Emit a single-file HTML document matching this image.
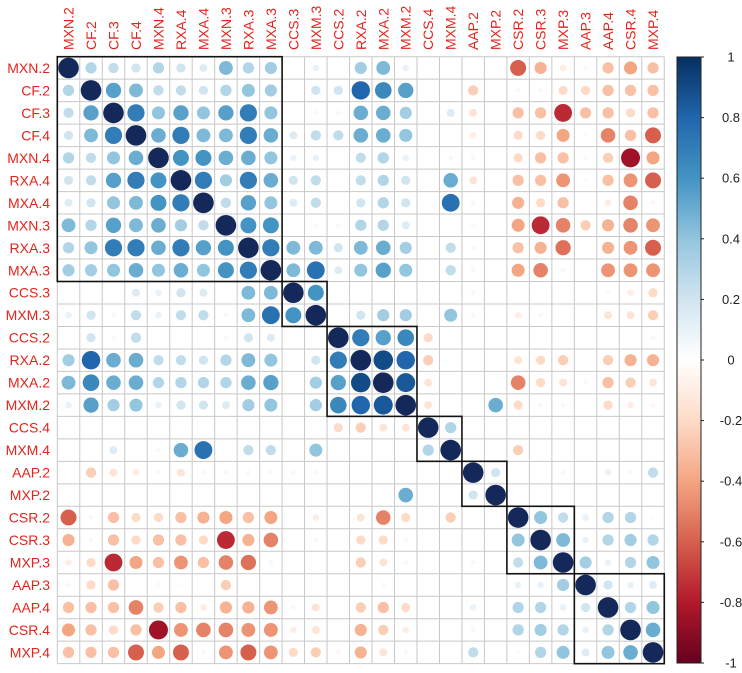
<!DOCTYPE html>
<html><head><meta charset="utf-8"><style>
body{margin:0;background:#fff;}
svg{display:block;font-family:"Liberation Sans",sans-serif;}
</style></head><body>
<svg id="chart" width="742" height="673" viewBox="0 0 742 673" xmlns="http://www.w3.org/2000/svg"></svg>
<script>
const variables=["MXN.2","CF.2","CF.3","CF.4","MXN.4","RXA.4","MXA.4","MXN.3","RXA.3","MXA.3","CCS.3","MXM.3","CCS.2","RXA.2","MXA.2","MXM.2","CCS.4","MXM.4","AAP.2","MXP.2","CSR.2","CSR.3","MXP.3","AAP.3","AAP.4","CSR.4","MXP.4"];
// upper triangle rows (starting at diagonal)
const upperRows=[
[1,.3,.25,.2,.3,.2,.15,.45,.3,.35,0,.1,0,.35,.45,.1,0,0,0,0,-.6,-.35,-.1,-.05,-.3,-.4,-.3],
[1,.55,.45,.25,.25,.2,.3,.4,.35,0,.2,.2,.8,.65,.55,0,0,-.25,0,-.05,-.05,-.2,-.2,-.3,-.3,-.3],
[1,.7,.4,.55,.4,.55,.7,.4,0,.05,.05,.5,.5,.35,0,.15,-.15,0,-.3,-.3,-.75,-.3,-.3,-.2,-.3],
[1,.5,.7,.45,.45,.7,.5,.15,.25,.25,.5,.5,.4,0,0,-.1,0,-.2,-.2,-.4,-.03,-.5,-.3,-.6],
[1,.6,.6,.5,.5,.4,.1,.1,0,.25,.3,.1,0,.05,-.05,0,-.2,-.3,-.3,-.05,-.25,-.85,-.4],
[1,.7,.35,.7,.5,.2,.25,0,.25,.3,.2,0,.5,-.15,0,-.3,-.3,-.45,-.03,-.3,-.45,-.6],
[1,.25,.55,.4,.15,.25,0,.2,.3,.2,0,.75,-.05,0,-.35,-.2,-.3,-.02,-.1,-.5,-.05],
[1,.6,.6,0,.05,.05,.3,.3,.15,0,0,-.05,0,-.4,-.75,-.5,-.25,-.35,-.5,-.45],
[1,.7,.45,.45,.2,.45,.5,.35,0,.25,-.05,0,-.3,-.35,-.55,-.03,-.35,-.45,-.6],
[1,.45,.75,.15,.4,.55,.4,0,.25,-.05,0,-.4,-.5,-.05,0,-.45,-.45,-.45],
[1,.6,0,0,0,0,0,0,-.05,0,0,0,0,0,-.05,-.1,-.2],
[1,0,.2,.35,.35,0,.4,-.05,0,-.1,-.05,0,0,-.15,-.15,-.25],
[1,.7,.55,.65,-.2,0,0,0,0,0,0,0,0,0,-.05],
[1,.9,.8,-.25,0,0,0,-.15,-.2,-.25,-.02,-.25,-.35,-.35],
[1,.85,-.15,0,0,0,-.5,-.2,-.15,-.05,-.3,-.25,-.15],
[1,-.15,0,0,.5,-.2,-.05,-.05,-.02,-.2,-.1,-.05],
[1,.3,0,0,0,0,0,0,0,0,0],
[1,0,0,-.25,0,0,0,0,0,0],
[1,.2,0,0,-.05,0,.1,.05,.25],
[1,0,0,0,0,0,0,0],
[1,.4,.25,.1,.3,.3,.03],
[1,.45,.1,.3,.35,.3],
[1,.35,.1,.3,.4],
[1,.2,.1,.15],
[1,.3,.4],
[1,.5],
[1]];
const blocks=[[0,9],[10,11],[12,15],[16,17],[18,19],[20,22],[23,26]];
const barTicks=[1,0.8,0.6,0.4,0.2,0,-0.2,-0.4,-0.6,-0.8,-1];
const barTickLabels=["1","0.8","0.6","0.4","0.2","0","-0.2","-0.4","-0.6","-0.8","-1"];

const NS="http://www.w3.org/2000/svg";
const svg=document.getElementById('chart');
const n=variables.length;
const x0=57.3,y0=56.7,cell=22.48;
function cx(j){return x0+(j+0.5)*cell;}
function cy(i){return y0+(i+0.5)*cell;}
function mk(t,a,parent){const e=document.createElementNS(NS,t);for(const k in a)e.setAttribute(k,a[k]);(parent||svg).appendChild(e);return e;}
const M=[];for(let i=0;i<n;i++)M.push(new Array(n).fill(0));
for(let i=0;i<n;i++)for(let k=0;k<upperRows[i].length;k++){const j=i+k;M[i][j]=upperRows[i][k];M[j][i]=upperRows[i][k];}
const stops=[[-1,[103,0,31]],[-0.8,[178,24,43]],[-0.6,[214,96,77]],[-0.4,[244,165,130]],[-0.2,[253,219,199]],[0,[255,255,255]],[0.2,[209,229,240]],[0.4,[146,197,222]],[0.6,[67,147,195]],[0.8,[33,102,172]],[1,[5,48,97]]];
function color(v){v=Math.max(-1,Math.min(1,v));for(let s=0;s<stops.length-1;s++){const a=stops[s],b=stops[s+1];if(v<=b[0]){const t=(v-a[0])/(b[0]-a[0]);const c=a[1].map((q,k)=>Math.round(q+(b[1][k]-q)*t));return `rgb(${c[0]},${c[1]},${c[2]})`;}}return 'rgb(5,48,97)';}
function diagColor(v){return v>=0.999?'#14285a':color(v);}
const grid=mk('g',{});


for(let k=0;k<=n;k++){
  mk('line',{x1:x0+k*cell,y1:y0,x2:x0+k*cell,y2:y0+n*cell,stroke:'#c8c8c8','stroke-width':1},grid);
  mk('line',{x1:x0,y1:y0+k*cell,x2:x0+n*cell,y2:y0+k*cell,stroke:'#c8c8c8','stroke-width':1},grid);
}
const cg=mk('g',{});


for(let i=0;i<n;i++)for(let j=0;j<n;j++){const v=M[i][j];if(Math.abs(v)<0.005)continue;
  const c=mk('circle',{cx:cx(j),cy:cy(i),r:(10.3*Math.sqrt(Math.abs(v))).toFixed(2),fill:diagColor(v)},cg);
  
  
}
for(const b of blocks){
  const r=mk('rect',{x:x0+b[0]*cell,y:y0+b[0]*cell,width:(b[1]-b[0]+1)*cell,height:(b[1]-b[0]+1)*cell,fill:'none',stroke:'#111','stroke-width':1.6});
  
  
}
for(let i=0;i<n;i++){
  const t=mk('text',{x:50,y:cy(i)+5,'text-anchor':'end','font-size':14,fill:'#e3241c'});
  t.textContent=variables[i];
  
  
  const c=mk('text',{x:0,y:0,'text-anchor':'start','font-size':14,fill:'#e3241c',transform:`translate(${cx(i)+5},50) rotate(-90)`});
  c.textContent=variables[i];
  
  
}
const bx=677,bw=24,bt=57,bb=663;
const defs=mk('defs',{});
const lg=mk('linearGradient',{id:'cb',x1:0,y1:0,x2:0,y2:1},defs);
for(let k=0;k<=20;k++){const v=1-k*0.1;mk('stop',{offset:(k/20),'stop-color':color(v)},lg);}
const bar=mk('rect',{x:bx,y:bt,width:bw,height:bb-bt,fill:'url(#cb)',stroke:'#222','stroke-width':1});


function by(v){return bt+(1-v)/2*(bb-bt);}
barTicks.forEach((v,k)=>{
  mk('line',{x1:bx+bw,y1:by(v),x2:bx+bw+3,y2:by(v),stroke:'#222','stroke-width':1});
  const t=mk('text',{x:731,y:by(v)+4.5,'text-anchor':'middle','font-size':13,fill:'#222'});
  t.textContent=barTickLabels[k];
  
  
});
</script>
</body></html>
